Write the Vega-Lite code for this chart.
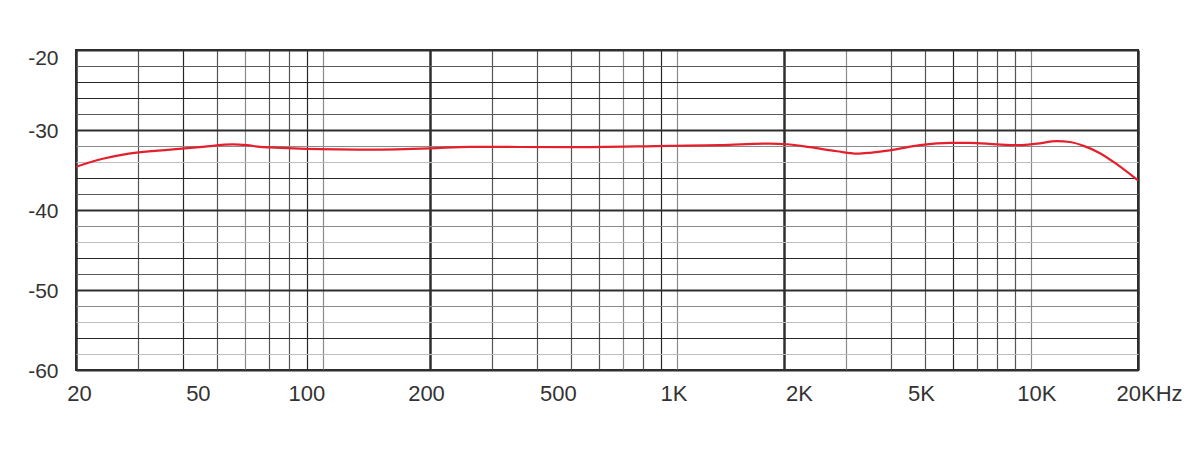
{
  "$schema": "https://vega.github.io/schema/vega-lite/v6.json",
  "width": 1062,
  "height": 320,
  "autosize": "none",
  "padding": {"left": 76, "top": 50, "right": 62, "bottom": 80},
  "background": "white",
  "config": {
    "view": {"stroke": "#2e2e2e", "strokeWidth": 2},
    "axis": {"labelFont": "Liberation Sans", "labelColor": "#333333", "domain": false, "ticks": false, "title": null}
  },
  "data": {
    "values": [
      {"f": 20, "db": -34.6},
      {"f": 23.8, "db": -33.6},
      {"f": 28.2, "db": -32.95},
      {"f": 36.9, "db": -32.45},
      {"f": 45.7, "db": -32.1},
      {"f": 55.5, "db": -31.8},
      {"f": 60.8, "db": -31.9},
      {"f": 66.2, "db": -32.1},
      {"f": 70.6, "db": -32.18},
      {"f": 97.8, "db": -32.4},
      {"f": 135, "db": -32.45},
      {"f": 200, "db": -32.3},
      {"f": 259, "db": -32.1},
      {"f": 497, "db": -32.15},
      {"f": 952, "db": -31.98},
      {"f": 1319, "db": -31.9},
      {"f": 1827, "db": -31.7},
      {"f": 2038, "db": -31.78},
      {"f": 2368, "db": -32.15},
      {"f": 2823, "db": -32.66},
      {"f": 3216, "db": -32.95},
      {"f": 3500, "db": -32.85},
      {"f": 3986, "db": -32.54},
      {"f": 4845, "db": -31.9},
      {"f": 5888, "db": -31.6},
      {"f": 6704, "db": -31.6},
      {"f": 7993, "db": -31.8},
      {"f": 9284, "db": -31.9},
      {"f": 10368, "db": -31.7},
      {"f": 11810, "db": -31.4},
      {"f": 12852, "db": -31.5},
      {"f": 13984, "db": -31.95},
      {"f": 15618, "db": -32.9},
      {"f": 17450, "db": -34.3},
      {"f": 20000, "db": -36.3}
    ]
  },
  "mark": {"type": "line", "color": "#e5202d", "strokeWidth": 2.2, "interpolate": "monotone", "clip": true},
  "encoding": {
    "x": {
      "field": "f",
      "type": "quantitative",
      "scale": {"type": "log", "domain": [20, 20000], "nice": false},
      "axis": {
        "values": [20, 30, 40, 50, 60, 70, 80, 90, 100, 200, 300, 400, 500, 600, 700, 800, 900, 1000, 2000, 3000, 4000, 5000, 6000, 7000, 8000, 9000, 10000, 20000],
        "labelExpr": "datum.value == 20 ? '20' : datum.value == 50 ? '50' : datum.value == 100 ? '100' : datum.value == 200 ? '200' : datum.value == 500 ? '500' : datum.value == 1000 ? '1K' : datum.value == 2000 ? '2K' : datum.value == 5000 ? '5K' : datum.value == 10000 ? '10K' : datum.value == 20000 ? '20KHz' : ''",
        "labelFontSize": 22,
        "labelPadding": 13,
        "labelAlign": "center",
        "labelOffset": {"condition": [
          {"test": "datum.value == 20000", "value": 11},
          {"test": "datum.value == 20", "value": 3},
          {"test": "datum.value == 50", "value": -19},
          {"test": "datum.value == 100", "value": -17},
          {"test": "datum.value == 200", "value": -4},
          {"test": "datum.value == 500", "value": -13},
          {"test": "datum.value == 1000", "value": -4},
          {"test": "datum.value == 2000", "value": 15},
          {"test": "datum.value == 5000", "value": -4},
          {"test": "datum.value == 10000", "value": 5}
        ], "value": 0},
        "labelFlush": false,
        "labelOverlap": false,
        "grid": true,
        "gridWidth": {"condition": {"test": "datum.value == 200 || datum.value == 2000 || datum.value == 20 || datum.value == 20000", "value": 2.5}, "value": 1.2},
        "gridColor": {"condition": [
          {"test": "datum.value == 200 || datum.value == 2000 || datum.value == 20 || datum.value == 20000", "value": "#2e2e2e"},
          {"test": "datum.value == 100 || datum.value == 1000 || datum.value == 10000 || datum.value == 700 || datum.value == 3000 || datum.value == 60", "value": "#8a8a8a"},
          {"test": "datum.value == 40 || datum.value == 90 || datum.value == 6000 || datum.value == 900", "value": "#262626"}
        ], "value": "#555555"}
      }
    },
    "y": {
      "field": "db",
      "type": "quantitative",
      "scale": {"domain": [-60, -20], "nice": false, "zero": false},
      "axis": {
        "values": [-20, -22, -24, -26, -28, -30, -32, -34, -36, -38, -40, -42, -44, -46, -48, -50, -52, -54, -56, -58, -60],
        "labelExpr": "datum.value % 10 == 0 ? toString(datum.value) : ''",
        "labelFontSize": 21,
        "labelPadding": 18,
        "labelOffset": {"condition": {"test": "datum.value == -20", "value": 8}, "value": 1},
        "labelOverlap": false,
        "labelFlush": false,
        "grid": true,
        "gridWidth": {"condition": {"test": "datum.value % 10 == 0", "value": 2.2}, "value": 1.2},
        "gridColor": {"condition": [
          {"test": "datum.value % 10 == 0", "value": "#2e2e2e"},
          {"test": "datum.value == -24 || datum.value == -26 || datum.value == -36 || datum.value == -46 || datum.value == -56", "value": "#262626"},
          {"test": "datum.value == -34 || datum.value == -44 || datum.value == -54 || datum.value == -58", "value": "#bdbdbd"},
          {"test": "datum.value == -32 || datum.value == -42 || datum.value == -52", "value": "#8a8a8a"}
        ], "value": "#5a5a5a"}
      }
    }
  }
}
